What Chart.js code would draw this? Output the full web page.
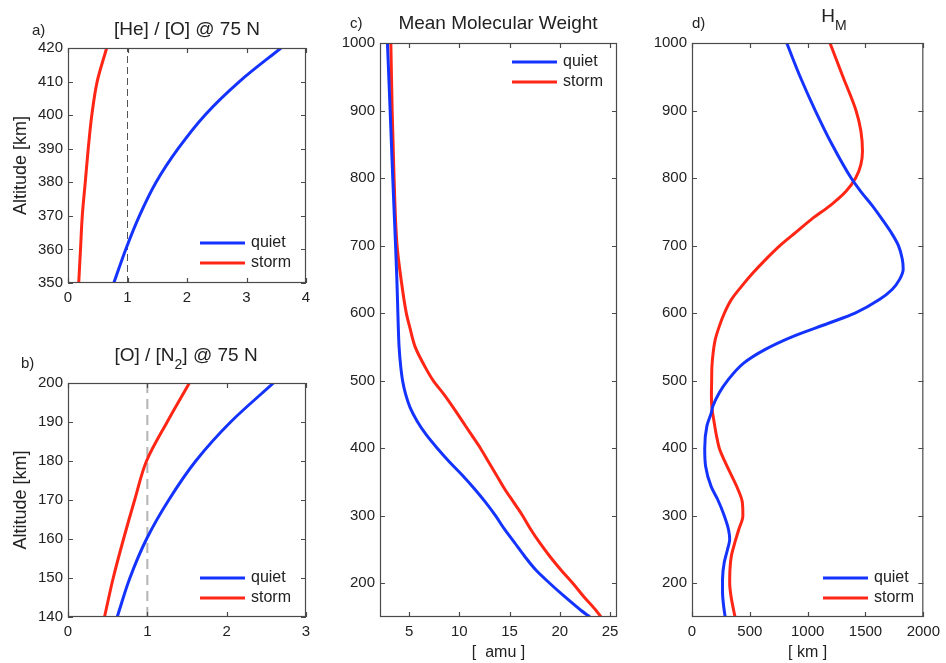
<!DOCTYPE html>
<html>
<head>
<meta charset="utf-8">
<script src="https://cdn.jsdelivr.net/npm/chart.js@4.4.1/dist/chart.umd.min.js"></script>
<style>
  body { margin: 0; background: #fff; }
  #wrap { position: relative; width: 946px; height: 663px; background: #fff; }
  #wrap canvas { position: absolute; left: 0; top: 0; }
</style>
</head>
<body>
<div id="wrap">
  <canvas id="pa" width="946" height="663"></canvas>
  <canvas id="pb" width="946" height="663"></canvas>
  <canvas id="pc" width="946" height="663"></canvas>
  <canvas id="pd" width="946" height="663"></canvas>
</div>
<script>
// a) [He]/[O] ratio at 75 N
const altA = [350, 360, 370, 380, 390, 400, 410, 420];
const heoQuiet = [0.77, 0.97, 1.20, 1.48, 1.85, 2.30, 2.88, 3.58];
const heoStorm = [0.18, 0.21, 0.24, 0.29, 0.34, 0.40, 0.49, 0.65];

// b) [O]/[N2] ratio at 75 N
const altB = [140, 150, 160, 170, 180, 190, 200];
const on2Quiet = [0.62, 0.78, 0.99, 1.27, 1.61, 2.05, 2.59];
const on2Storm = [0.46, 0.57, 0.70, 0.84, 0.99, 1.25, 1.53];

// c) mean molecular weight [amu]
const altC = [150, 160, 180, 200, 220, 240, 260, 280, 300, 320, 340, 360, 380, 400,
  420, 440, 460, 480, 500, 520, 550, 580, 600, 650, 700, 800, 900, 1000];
const mmwQuiet = [23.0, 22.1, 20.5, 19.0, 17.6, 16.5, 15.5, 14.5, 13.6, 12.6, 11.5, 10.3, 9.0, 7.8,
  6.7, 5.8, 5.1, 4.65, 4.35, 4.17, 4.0, 3.92, 3.88, 3.78, 3.65, 3.37, 3.11, 2.84];
const mmwStorm = [24.1, 23.6, 22.4, 21.3, 20.1, 19.0, 18.0, 17.1, 16.3, 15.4, 14.5, 13.7, 12.9, 12.1,
  11.2, 10.3, 9.4, 8.45, 7.4, 6.6, 5.6, 5.05, 4.72, 4.2, 3.8, 3.5, 3.31, 3.18];

// d) H_M [km]
const altDq = [150, 167, 187, 206, 231, 250, 265, 280, 300, 324, 343, 373, 400, 433, 452, 462,
  482, 500, 526, 546, 566, 585, 600, 620, 635, 650, 665, 680, 700, 720, 740, 760, 780, 800,
  850, 900, 950, 1000];
const hmQuiet = [287, 273, 264, 264, 279, 307, 326, 315, 279, 222, 166, 118, 110, 129, 166, 180,
  236, 307, 447, 630, 880, 1180, 1410, 1620, 1730, 1795, 1826, 1818, 1785, 1720, 1640, 1555,
  1460, 1376, 1210, 1066, 935, 819];
const altDs = [150, 160, 180, 200, 220, 240, 260, 280, 300, 320, 340, 360, 380, 400, 420, 440,
  460, 480, 500, 520, 540, 560, 580, 600, 620, 640, 660, 680, 700, 720, 740, 760, 780, 800,
  820, 840, 870, 900, 950, 1000];
const hmStorm = [372, 360, 338, 326, 328, 340, 370, 405, 440, 435, 395, 340, 285, 236, 210, 190,
  172, 168, 170, 172, 182, 200, 235, 280, 340, 430, 530, 640, 760, 900, 1040, 1200, 1330, 1415,
  1460, 1474, 1460, 1418, 1305, 1193];

const BLUE = '#1433ff';
const RED = '#ff2616';
const TXT = '#222';
const FAMILY = "'Liberation Sans', Arial, Helvetica, sans-serif";

Chart.defaults.font.family = FAMILY;
Chart.defaults.color = TXT;

const pts = (ys, xs) => ys.map((y, i) => ({ x: xs[i], y: y }));

function richText(ctx, segs, cx, base, size, subSize) {
  let w = 0;
  segs.forEach(s => {
    ctx.font = (s[1] ? subSize : size) + 'px ' + FAMILY;
    w += ctx.measureText(s[0]).width;
  });
  let x = cx - w / 2;
  segs.forEach(s => {
    ctx.font = (s[1] ? subSize : size) + 'px ' + FAMILY;
    ctx.fillText(s[0], x, s[1] ? base + 8 : base);
    x += ctx.measureText(s[0]).width;
  });
}

const framePlugin = {
  id: 'frame',
  afterDraw(chart, args, o) {
    const { ctx, chartArea: a } = chart;
    const xs = chart.scales.x, ys = chart.scales.y;
    ctx.save();
    // box
    ctx.strokeStyle = '#4a4a4a';
    ctx.lineWidth = 1.2;
    ctx.strokeRect(a.left + 0.5, a.top + 0.5, a.right - a.left - 1, a.bottom - a.top - 1);
    // inward ticks on all four sides
    ctx.beginPath();
    xs.ticks.forEach(t => {
      const px = Math.round(xs.getPixelForValue(t.value)) + 0.5;
      ctx.moveTo(px, a.bottom); ctx.lineTo(px, a.bottom - 5);
      ctx.moveTo(px, a.top); ctx.lineTo(px, a.top + 5);
    });
    ys.ticks.forEach(t => {
      const py = Math.round(ys.getPixelForValue(t.value)) + 0.5;
      ctx.moveTo(a.left, py); ctx.lineTo(a.left + 5, py);
      ctx.moveTo(a.right, py); ctx.lineTo(a.right - 5, py);
    });
    ctx.stroke();

    ctx.fillStyle = TXT;
    ctx.textBaseline = 'alphabetic';
    ctx.textAlign = 'left';
    // title and panel letter
    richText(ctx, o.title, o.titleX, o.titleY, 19, 14);
    ctx.font = '15px ' + FAMILY;
    ctx.fillText(o.tag, o.tagX, o.tagY);

    // legend
    const items = [['quiet', BLUE], ['storm', RED]];
    items.forEach((it, i) => {
      const y = o.legY + i * 20;
      ctx.strokeStyle = it[1];
      ctx.lineWidth = 3;
      ctx.beginPath();
      ctx.moveTo(o.legX, y); ctx.lineTo(o.legX + 45, y);
      ctx.stroke();
      ctx.fillStyle = TXT;
      ctx.font = '16px ' + FAMILY;
      ctx.textBaseline = 'middle';
      ctx.fillText(it[0], o.legX + 51, y);
    });
    ctx.restore();
  }
};

function panel(id, p) {
  const W = 946, H = 663, yW = 60;
  const curve = (data, color) => ({
    data: data, borderColor: color, borderWidth: 3, pointRadius: 0,
    cubicInterpolationMode: 'monotone', fill: false
  });
  const sets = [curve(p.quiet, BLUE), curve(p.storm, RED)];
  if (p.dash) {
    sets.push({
      data: p.dash.data, borderColor: p.dash.color, borderWidth: p.dash.width,
      borderDash: p.dash.pattern, pointRadius: 0, fill: false
    });
  }
  const fmt = v => String(v);
  new Chart(document.getElementById(id), {
    type: 'line',
    data: { datasets: sets },
    options: {
      indexAxis: 'y',
      responsive: false,
      animation: false,
      events: [],
      layout: {
        padding: { left: p.area.l - yW, top: p.area.t, right: W - p.area.r, bottom: H - p.area.b - p.xH }
      },
      plugins: {
        legend: { display: false },
        tooltip: { enabled: false },
        frame: p.frame
      },
      scales: {
        x: {
          type: 'linear', min: p.xMin, max: p.xMax,
          grid: { display: false, drawTicks: false },
          border: { display: false },
          ticks: { stepSize: p.xStep, includeBounds: false, padding: 6, font: { size: 15 }, color: TXT, callback: fmt },
          title: p.xTitle ? { display: true, text: p.xTitle, font: { size: 16 }, color: TXT, padding: 0 } : { display: false },
          afterFit: s => { s.height = p.xH; }
        },
        y: {
          type: 'linear', min: p.yMin, max: p.yMax,
          grid: { display: false, drawTicks: false },
          border: { display: false },
          ticks: { stepSize: p.yStep, includeBounds: false, padding: 5, font: { size: 15 }, color: TXT, callback: fmt },
          title: p.yTitle ? { display: true, text: p.yTitle, font: { size: 18 }, color: TXT, padding: { top: 2, bottom: 0 } } : { display: false },
          afterFit: s => { s.width = yW; }
        }
      }
    },
    plugins: [framePlugin]
  });
}

panel('pa', {
  area: { l: 68, t: 48, r: 306, b: 283 }, xH: 30,
  xMin: 0, xMax: 4, xStep: 1, yMin: 350, yMax: 420, yStep: 10,
  yTitle: 'Altitude [km]',
  quiet: pts(altA, heoQuiet), storm: pts(altA, heoStorm),
  dash: { data: [{ x: 1, y: 350 }, { x: 1, y: 420 }], color: '#555', width: 1, pattern: [7, 4] },
  frame: { title: [['[He] / [O] @ 75 N']], titleX: 187, titleY: 35, tag: 'a)', tagX: 32, tagY: 35, legX: 200, legY: 243 }
});

panel('pb', {
  area: { l: 68, t: 383, r: 306, b: 617 }, xH: 30,
  xMin: 0, xMax: 3, xStep: 1, yMin: 140, yMax: 200, yStep: 10,
  yTitle: 'Altitude [km]',
  quiet: pts(altB, on2Quiet), storm: pts(altB, on2Storm),
  dash: { data: [{ x: 1, y: 140 }, { x: 1, y: 200 }], color: '#b4b4b4', width: 2, pattern: [10, 6] },
  frame: { title: [['[O] / [N'], ['2', true], ['] @ 75 N']], titleX: 186, titleY: 361, tag: 'b)', tagX: 21, tagY: 368, legX: 200, legY: 578 }
});

panel('pc', {
  area: { l: 380, t: 43, r: 617, b: 617 }, xH: 45,
  xMin: 2.1, xMax: 25.7, xStep: 5, yMin: 150, yMax: 1000, yStep: 100,
  xTitle: '[  amu ]',
  quiet: pts(altC, mmwQuiet), storm: pts(altC, mmwStorm),
  frame: { title: [['Mean Molecular Weight']], titleX: 498, titleY: 29, tag: 'c)', tagX: 350, tagY: 28, legX: 512, legY: 62 }
});

panel('pd', {
  area: { l: 692, t: 43, r: 929, b: 617 }, xH: 45,
  xMin: 0, xMax: 2000, xStep: 500, yMin: 150, yMax: 1000, yStep: 100,
  xTitle: '[ km ]',
  quiet: pts(altDq, hmQuiet), storm: pts(altDs, hmStorm),
  frame: { title: [['H'], ['M', true]], titleX: 834, titleY: 22, tag: 'd)', tagX: 692, tagY: 28, legX: 823, legY: 578 }
});
</script>
</body>
</html>
